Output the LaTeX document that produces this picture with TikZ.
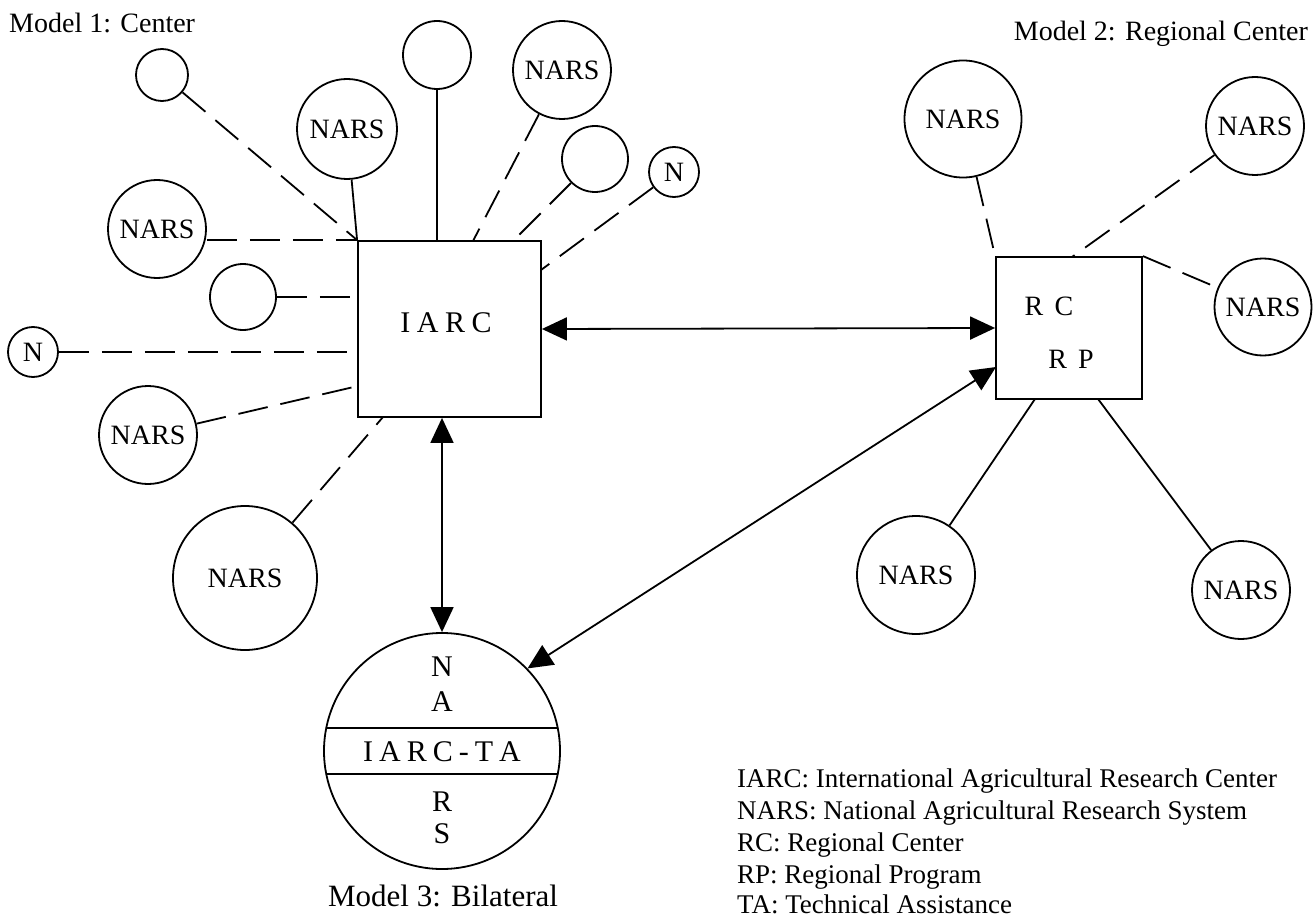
\documentclass[tikz,border=0pt]{standalone}
\usepackage{fontspec}
\setmainfont{Liberation Serif}
\usetikzlibrary{arrows.meta,calc}
\begin{document}
\begin{tikzpicture}[x=1pt,y=-1pt,
  every node/.style={inner sep=0pt,font=\fontsize{28}{32}\selectfont},
  bigtxt/.style={font=\fontsize{30}{34}\selectfont},
  legendtxt/.style={anchor=base west, font=\fontsize{27}{32}\selectfont},
  solidln/.style={line width=1.8pt},
  dashln/.style={line width=1.8pt, dash pattern=on 30pt off 13pt},
  circ/.style={draw, circle, line width=1.8pt, inner sep=0pt, minimum size=#1},
  boxnode/.style={draw, line width=1.8pt, inner sep=0pt},
  dblarrow/.style={line width=1.8pt, {Triangle[length=25pt,width=23pt]}-{Triangle[length=25pt,width=23pt]}},
]
\useasboundingbox (0,0) rectangle (1314,920);

% titles
\node[anchor=base west] (m1lbl) at (9,33) {Model 1: Center};
\node[anchor=base east] (m2lbl) at (1308,41) {Model 2: Regional Center};
\node[anchor=base, font=\fontsize{31}{36}\selectfont] (m3lbl) at (443,906) {Model 3: Bilateral};

% boxes
\node[boxnode, minimum width=183pt, minimum height=176pt] (iarc) at (449.5,329) {};
\node[bigtxt] (iarclbl) at (446,323) {I\kern.22em A\kern.22em R\kern.22em C};
\node[boxnode, minimum width=146pt, minimum height=142pt] (rc) at (1069,328) {};
\node (rctxt) at (1049,306) {R\kern.4em C};
\node (rptxt) at (1071,359) {R\kern.4em P};

% model 1 circles
\node[circ=52pt] (c1) at (162,75) {};
\node[circ=100pt] (n2) at (347,129) {NARS};
\node[circ=68pt] (c3) at (437,55) {};
\node[circ=98pt] (n4) at (562,70) {NARS};
\node[circ=66pt] (c5) at (595,159) {};
\node[circ=50pt] (s6) at (674,172) {N};
\node[circ=98pt] (n7) at (157,229) {NARS};
\node[circ=66pt] (c8) at (243,297) {};
\node[circ=50pt] (s9) at (33,352) {N};
\node[circ=98pt] (n10) at (148,435) {NARS};
\node[circ=144pt] (n11) at (245,578) {NARS};

% model 2 circles
\node[circ=117pt] (r1) at (963,119) {NARS};
\node[circ=98pt] (r2) at (1255,126) {NARS};
\node[circ=97pt] (r3) at (1263,307) {NARS};
\node[circ=118pt] (r4) at (916,575) {NARS};
\node[circ=98pt] (r5) at (1241,590) {NARS};

% model 3 circle
\node[circ=236pt] (bil) at (442,751) {};
\draw[solidln] ($(bil)+(-115.7,-23)$) -- ($(bil)+(115.7,-23)$);
\draw[solidln] ($(bil)+(-115.7,23)$) -- ($(bil)+(115.7,23)$);
\node[bigtxt] (bN) at (442,667) {N};
\node[bigtxt] (bA) at (442,702) {A};
\node[bigtxt] (bT) at (442,752) {I\kern.2em A\kern.2em R\kern.2em C\kern.2em -\kern.2em T\kern.2em A};
\node[bigtxt] (bR) at (442,802) {R};
\node[bigtxt] (bS) at (442,834) {S};

% coordinates on boxes
\coordinate (p473) at (473,241);
\coordinate (p513) at (513,241);
\coordinate (p541) at (541,270);
\coordinate (w386) at (358,386);
\coordinate (b383) at (383,417);
\coordinate (t1072) at (1072,257);
\coordinate (b1035) at (1035,399);
\coordinate (b1098) at (1098,399);
\coordinate (rcin) at (996,367);

% model 1 connectors
\draw[dashln] (c1) -- (iarc.north west);
\draw[solidln] (n2) -- (iarc.north west);
\draw[solidln] (c3) -- (c3 |- iarc.north);
\draw[dashln] (n4) -- (p473);
\draw[dashln] (c5) -- (p513);
\draw[dashln] (s6) -- (p541);
\draw[dashln] (n7.east |- iarc.north) -- (iarc.north west);
\draw[dashln] (c8.east) -- (c8.east -| iarc.west);
\draw[dashln] (s9.east) -- (s9.east -| iarc.west);
\draw[dashln] (n10) -- (w386);
\draw[dashln] (n11) -- (b383);

% model 2 connectors
\draw[dashln] (r1) -- (rc.north west);
\draw[dashln] (r2) -- (t1072);
\draw[dashln] (rc.north east) -- (r3);
\draw[solidln] (r4) -- (b1035);
\draw[solidln] (r5) -- (b1098);

% arrows
\draw[dblarrow] (iarc.east) -- (rc.west);
\draw[dblarrow] (iarc.south -| bil) -- (bil.north);
\draw[dblarrow] (rcin) -- (bil.44);

% legend
\node[legendtxt] (lg1) at (737,787) {IARC: International Agricultural Research Center};
\node[legendtxt] (lg2) at (737,819) {NARS: National Agricultural Research System};
\node[legendtxt] (lg3) at (737,851) {RC: Regional Center};
\node[legendtxt] (lg4) at (737,883) {RP: Regional Program};
\node[legendtxt] (lg5) at (737,913) {TA: Technical Assistance};
\end{tikzpicture}
\end{document}
